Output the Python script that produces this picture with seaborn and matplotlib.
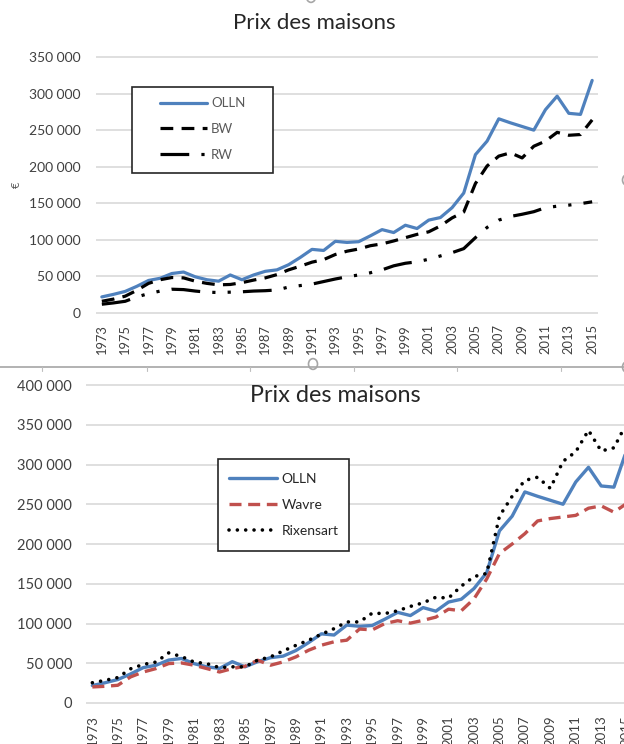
import matplotlib
matplotlib.use("Agg")
import matplotlib.pyplot as plt
import matplotlib.ticker as mticker
from matplotlib.lines import Line2D
from matplotlib.patches import Circle, Rectangle
import seaborn as sns

YEARS = list(range(1973, 2016))

OLLN = [22000, 25500, 29500, 36500, 44500, 47500, 54000, 56000, 49500, 45500,
        43500, 52000, 45500, 52000, 57000, 59000, 66000, 76000, 87000, 85500,
        98000, 96500, 97500, 105500, 114000, 110000, 120000, 115500, 127000, 130500,
        144000, 164000, 216500, 235000, 265500, 260000, 255000, 250000, 278000, 296500,
        273000, 271500, 318000]
BW = [16000, 19000, 23000, 31000, 40500, 45500, 48500, 48000, 43500, 40500,
      38500, 39000, 41500, 45000, 48000, 52500, 59000, 64000, 69500, 73000,
      80000, 84500, 87500, 92000, 94500, 98500, 103000, 107500, 111000, 119000,
      130000, 138000, 177000, 201000, 214500, 219000, 212000, 228000, 235000, 247000,
      243000, 244000, 264000]
RW = [12000, 13800, 16000, 22000, 26500, 30000, 32500, 32000, 30000, 28500,
      28000, 28500, 29000, 30000, 30500, 31500, 35500, 37500, 39500, 43000,
      46500, 49500, 52000, 55000, 59000, 64500, 68000, 70000, 73500, 78000,
      82500, 88000, 103000, 117000, 127000, 132000, 135000, 138500, 144000, 146000,
      147500, 149500, 152000]
WAVRE = [20200, 21000, 22300, 32800, 39000, 43300, 49600, 50400, 47500, 43300,
         39000, 43300, 46200, 53800, 47500, 51700, 58000, 66400, 72700, 77000,
         79000, 93000, 92000, 100000, 103500, 100500, 104000, 108000, 118000, 116000,
         131000, 156000, 188000, 200000, 213000, 229000, 232000, 234000, 236000, 245000,
         248000, 240000, 251000]
RIXENSART = [25500, 28500, 32000, 43000, 48500, 51500, 63000, 58500, 51500, 49500,
             44500, 45500, 45500, 54000, 58000, 65500, 72500, 79000, 86500, 93500,
             102000, 102000, 113000, 112500, 116000, 121500, 126000, 133000, 132000, 147000,
             159000, 163000, 235000, 260000, 280000, 284000, 270000, 304000, 316000, 343000,
             317000, 321000, 352000]

TITLE = "Prix des maisons"
BLUE = "#4F81BD"
RED = "#C0504D"
GRID = "#D9D9D9"
TXT = "#404040"

W, H = 624, 744  # pixel canvas


def fx(px):
    return px / W


def fy(py):
    return 1 - py / H


def thousands(v, _):
    return f"{int(round(v)):,}".replace(",", " ")


def add_axes(left, right, y_top, y_zero, ymax):
    # a few px of headroom so the top and zero gridlines are not clipped
    per_px = ymax / (y_zero - y_top)
    ax = fig.add_axes([fx(left), fy(y_zero + 3), (right - left) / W, (y_zero - y_top + 6) / H])
    ax.set_ylim(-3 * per_px, ymax + 3 * per_px)
    return ax


def style_axes(ax, ysize, xsize, ypad, xpad):
    ax.set_xlim(1972.5, 2015.5)
    ax.yaxis.set_major_locator(mticker.MultipleLocator(50000))
    ax.yaxis.set_major_formatter(mticker.FuncFormatter(thousands))
    ax.set_xticks(YEARS[::2])
    ax.tick_params(axis="x", labelrotation=90, labelsize=xsize, length=0, pad=xpad, colors=TXT)
    ax.tick_params(axis="y", labelsize=ysize, length=0, pad=ypad, colors=TXT)
    ax.grid(axis="y", color=GRID, lw=1.2)
    ax.grid(axis="x", visible=False)
    ax.set_axisbelow(True)
    for s in ax.spines.values():
        s.set_visible(False)
    ax.set(xlabel="", ylabel="")


def legend_box(ax, x0, y0, x1, y1):
    ax.add_patch(Rectangle((fx(x0), fy(y1)), (x1 - x0) / W, (y1 - y0) / H,
                           transform=fig.transFigure, fc="white", ec="#262626",
                           lw=1.2, zorder=4, clip_on=False))


sns.set_theme(style="white")
plt.rcParams["font.family"] = ["Lato", "DejaVu Sans"]

fig = plt.figure(figsize=(W / 100, H / 100), dpi=100)
fig.patch.set_facecolor("white")

# top chart: OLLN / BW / RW
ax1 = add_axes(96, 598, 57, 313, 350000)
sns.lineplot(x=YEARS, y=OLLN, ax=ax1, color=BLUE, lw=2.3, label="OLLN")
sns.lineplot(x=YEARS, y=BW, ax=ax1, color="black", lw=2.3, label="BW",
             linestyle=(0, (4, 2.6)), dash_capstyle="butt")
sns.lineplot(x=YEARS, y=RW, ax=ax1, color="black", lw=2.3, label="RW",
             linestyle=(0, (9, 3.8, 1, 3.8, 1, 3.8)), dash_capstyle="butt")
style_axes(ax1, 10, 9.3, 11, 6)
legend_box(ax1, 132, 87, 273, 173)
leg1 = ax1.legend(loc="center", bbox_to_anchor=(fx(203), fy(129)),
                  bbox_transform=fig.transFigure, frameon=False, fontsize=9.5,
                  handlelength=3.5, handletextpad=0.35, labelspacing=1.05, borderpad=0)
leg1.set_zorder(5)
for t in leg1.get_texts():
    t.set_color("#595959")

# bottom chart: OLLN / Wavre / Rixensart (cut at the right edge)
ax2 = add_axes(86, 633, 385, 703, 400000)
sns.lineplot(x=YEARS, y=OLLN, ax=ax2, color=BLUE, lw=2.4, label="OLLN")
sns.lineplot(x=YEARS, y=WAVRE, ax=ax2, color=RED, lw=2.4, label="Wavre",
             linestyle=(0, (3.6, 2.0)), dash_capstyle="butt")
sns.lineplot(x=YEARS, y=RIXENSART, ax=ax2, color="black", lw=2.6, label="Rixensart",
             linestyle=(0, (0.01, 2.3)), dash_capstyle="round")
style_axes(ax2, 10.5, 9.5, 10, 6.5)
legend_box(ax2, 218, 459, 349, 551)
leg2 = ax2.legend(loc="center", bbox_to_anchor=(fx(284), fy(505)),
                  bbox_transform=fig.transFigure, frameon=False, fontsize=10,
                  handlelength=3.4, handletextpad=0.35, labelspacing=1.0, borderpad=0)
leg2.set_zorder(5)
for t in leg2.get_texts():
    t.set_color("#262626")

# titles and axis title
fig.text(fx(314), fy(23), TITLE, ha="center", va="center", fontsize=16, color="#262626")
fig.text(fx(335), fy(396), TITLE, ha="center", va="center", fontsize=16.8, color="#262626")
fig.text(fx(16), fy(185), "€", ha="center", va="center", rotation=90, fontsize=8, color="#595959")

# chart-frame remnants of the top chart (selection edge and handles)
fig.add_artist(Line2D([0, 1], [fy(367), fy(367)], transform=fig.transFigure,
                      color="#A6A6A6", lw=1.2))
for px in [42, 147, 250, 354, 457, 561]:
    fig.add_artist(Line2D([fx(px), fx(px)], [fy(367), fy(371)], transform=fig.transFigure,
                          color="#BFBFBF", lw=0.8))
for cx, cy in [(313, 364), (627, 367), (627, 180), (311, -3)]:
    fig.add_artist(Circle((fx(cx), fy(cy)), 4.5 / W, transform=fig.transFigure,
                          fc="white", ec="#A6A6A6", lw=1.2))

fig.savefig("out.png", dpi=100)
